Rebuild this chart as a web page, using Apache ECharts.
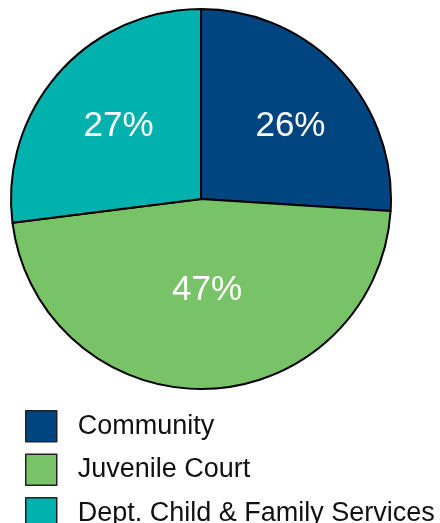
<!DOCTYPE html>
<html>
<head>
<meta charset="utf-8">
<script src="https://cdn.jsdelivr.net/npm/echarts@6/dist/echarts.min.js"></script>
<style>
html,body{margin:0;padding:0;background:#fff;}
#chart{width:440px;height:523px;}
</style>
</head>
<body>
<div id="chart"></div>
<script>
var categories = ['Community', 'Juvenile Court', 'Dept. Child & Family Services'];
var values = [26, 47, 27];
var colors = ['#00457f', '#78c267', '#00b1ae'];
var labelOffsets = [[18, -6], [3, -7], [-9, -8]];

var chart = echarts.init(document.getElementById('chart'), null, {renderer: 'canvas'});
var data = categories.map(function (name, i) {
  return {
    name: name,
    value: values[i],
    itemStyle: {color: colors[i]},
    label: {offset: labelOffsets[i]}
  };
});
chart.setOption({
  animation: false,
  legend: {
    orient: 'vertical',
    left: 25,
    top: 410,
    height: 300,
    width: 420,
    padding: 0,
    itemWidth: 31,
    itemHeight: 31,
    itemGap: 11,
    icon: 'rect',
    itemStyle: {borderColor: '#222', borderWidth: 1.5},
    textStyle: {
      fontFamily: 'Liberation Sans, Arial, sans-serif',
      fontSize: 27,
      color: '#111',
      padding: [5, 0, 0, 16]
    },
    data: categories
  },
  series: [{
    type: 'pie',
    center: [201, 199],
    radius: [0, 190],
    startAngle: 90,
    clockwise: true,
    silent: true,
    itemStyle: {borderColor: '#000', borderWidth: 2},
    label: {
      show: true,
      position: 'inside',
      formatter: '{c}%',
      color: '#fff',
      fontSize: 35,
      fontFamily: 'Liberation Sans, Arial, sans-serif'
    },
    labelLine: {show: false},
    data: data
  }]
});
</script>
</body>
</html>
